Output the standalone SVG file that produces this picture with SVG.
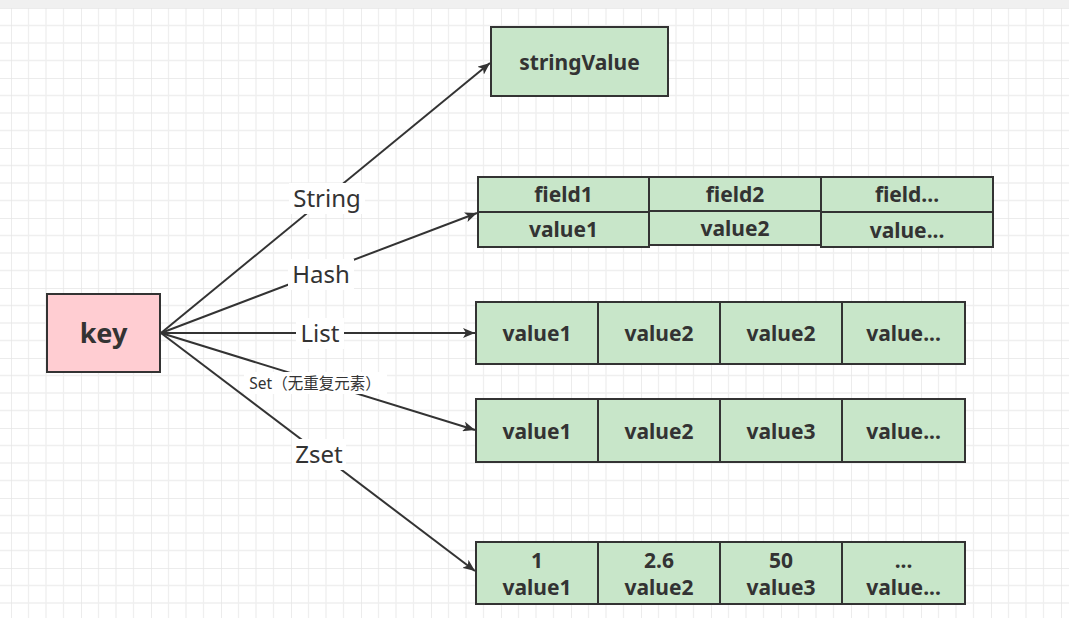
<svg xmlns="http://www.w3.org/2000/svg" width="1069" height="618" viewBox="0 0 1069 618">
<defs>
<pattern id="grid" patternUnits="userSpaceOnUse" x="11" y="8" width="70" height="70">
<path d="M17.5 0V70M35 0V70M52.5 0V70M0 17.5H70M0 35H70M0 52.5H70" stroke="#efefef" stroke-width="1.3" fill="none"/>
<path d="M0 0V70M0 0H70" stroke="#e6e6e6" stroke-width="1.5" fill="none"/>
</pattern>
<marker id="arr" viewBox="0 0 12 10" refX="12" refY="5" markerWidth="12" markerHeight="10" markerUnits="userSpaceOnUse" orient="auto">
<path d="M0 0L12 5L0 10L3 5Z" fill="#333"/>
</marker>
<style>
.g{fill:#c8e6c9;stroke:#333;stroke-width:2}
.t{font-family:"Noto Sans","Open Sans",sans-serif;font-weight:bold;font-size:21px;fill:#333;text-anchor:middle;dominant-baseline:central}
.l{font-family:"Noto Sans","Open Sans","Noto Sans CJK SC",sans-serif;font-size:24px;fill:#333;text-anchor:middle;dominant-baseline:central}
.c{stroke:#333;stroke-width:2;fill:none}
</style>
</defs>
<rect width="1069" height="618" fill="#fff"/>
<rect width="1069" height="618" fill="url(#grid)"/>
<rect width="1069" height="8" fill="#f0f0f0"/>

<g id="connectors">
<line class="c" x1="161" y1="333" x2="490" y2="63" marker-end="url(#arr)"/>
<line class="c" x1="161" y1="333" x2="477" y2="213" marker-end="url(#arr)"/>
<line class="c" x1="161" y1="333" x2="475" y2="333" marker-end="url(#arr)"/>
<line class="c" x1="161" y1="333" x2="475" y2="430" marker-end="url(#arr)"/>
<line class="c" x1="161" y1="333" x2="475" y2="571" marker-end="url(#arr)"/>
<rect x="289" y="183" width="76" height="31" fill="#fff"/>
<text class="l" x="327" y="197.5">String</text>
<rect x="288" y="259" width="66" height="31" fill="#fff"/>
<text class="l" x="321" y="273.5">Hash</text>
<rect x="296" y="318" width="48" height="31" fill="#fff"/>
<text class="l" x="320" y="332.5">List</text>
<rect x="244" y="372" width="143" height="22" fill="#fff"/>
<text class="l" x="315" y="382.5" style="font-size:15.5px">Set（无重复元素）</text>
<rect x="292" y="439" width="54" height="31" fill="#fff"/>
<text class="l" x="319" y="453.5">Zset</text>
</g>

<g id="key">
<rect x="47" y="294" width="113" height="78" fill="#ffcdd2" stroke="#333" stroke-width="2"/>
<text class="t" x="103.5" y="332.5" style="font-size:27px">key</text>
</g>

<g id="string">
<rect class="g" x="491" y="27" width="177" height="69"/>
<text class="t" x="579.5" y="61.5">stringValue</text>
</g>

<g id="hash">
<rect class="g" x="478" y="177" width="171" height="35"/>
<text class="t" x="563.5" y="194">field1</text>
<rect class="g" x="478" y="212" width="171" height="35"/>
<text class="t" x="563.5" y="229">value1</text>
<rect class="g" x="649" y="177" width="172" height="34"/>
<text class="t" x="735" y="193.5">field2</text>
<rect class="g" x="649" y="211" width="172" height="34"/>
<text class="t" x="735" y="227.5">value2</text>
<rect class="g" x="821" y="177" width="172" height="35"/>
<text class="t" x="907" y="194">field...</text>
<rect class="g" x="821" y="212" width="172" height="35"/>
<text class="t" x="907" y="229.5">value...</text>
</g>

<g id="list">
<rect class="g" x="476" y="302" width="122" height="62"/>
<text class="t" x="537" y="333">value1</text>
<rect class="g" x="598" y="302" width="122" height="62"/>
<text class="t" x="659" y="333">value2</text>
<rect class="g" x="720" y="302" width="122" height="62"/>
<text class="t" x="781" y="333">value2</text>
<rect class="g" x="842" y="302" width="123" height="62"/>
<text class="t" x="903.5" y="333">value...</text>
</g>

<g id="set">
<rect class="g" x="476" y="399" width="122" height="63"/>
<text class="t" x="537" y="431">value1</text>
<rect class="g" x="598" y="399" width="122" height="63"/>
<text class="t" x="659" y="431">value2</text>
<rect class="g" x="720" y="399" width="122" height="63"/>
<text class="t" x="781" y="431">value3</text>
<rect class="g" x="842" y="399" width="123" height="63"/>
<text class="t" x="903.5" y="431">value...</text>
</g>

<g id="zset">
<rect class="g" x="476" y="542" width="122" height="62"/>
<text class="t" x="537" y="560">1</text>
<text class="t" x="537" y="587">value1</text>
<rect class="g" x="598" y="542" width="122" height="62"/>
<text class="t" x="659" y="560">2.6</text>
<text class="t" x="659" y="587">value2</text>
<rect class="g" x="720" y="542" width="122" height="62"/>
<text class="t" x="781" y="560">50</text>
<text class="t" x="781" y="587">value3</text>
<rect class="g" x="842" y="542" width="123" height="62"/>
<text class="t" x="903.5" y="560">...</text>
<text class="t" x="903.5" y="587">value...</text>
</g>
</svg>
